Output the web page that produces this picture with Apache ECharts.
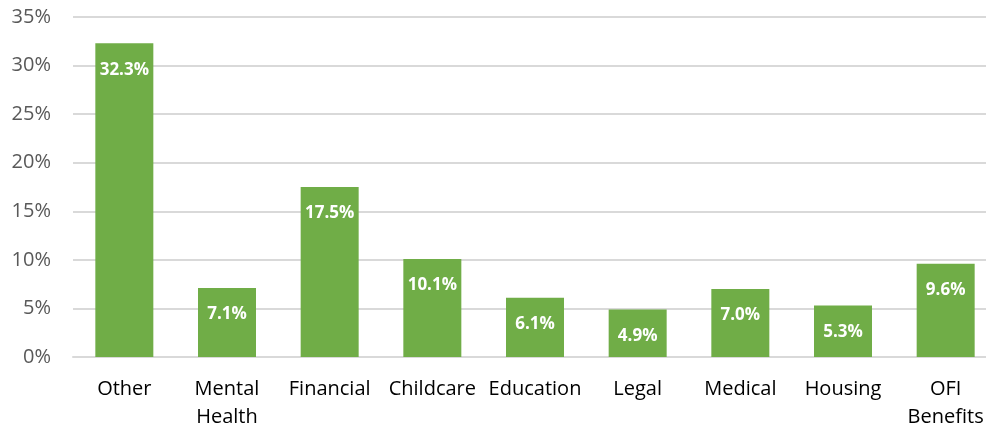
<!DOCTYPE html>
<html><head><meta charset="utf-8">
<script src="https://cdn.jsdelivr.net/npm/echarts@6/dist/echarts.min.js"></script>
<style>html,body{margin:0;padding:0;background:#fff}#c{width:986px;height:430px}</style>
</head><body><div id="c"></div>
<script>
const categories = ['Other', 'Mental\nHealth', 'Financial', 'Childcare', 'Education', 'Legal', 'Medical', 'Housing', 'OFI\nBenefits'];
const values = [32.3, 7.1, 17.5, 10.1, 6.1, 4.9, 7.0, 5.3, 9.6];
const yTicks = { min: 0, max: 35, interval: 5 };

const chart = echarts.init(document.getElementById('c'));
chart.setOption({
  animation: false,
  grid: { left: 73, top: 17, bottom: 73, width: 924, containLabel: false, outerBoundsMode: 'none' },
  xAxis: {
    type: 'category', data: categories,
    axisLine: { show: true, lineStyle: { color: '#d9d9d9', width: 2 } },
    axisTick: { show: false },
    axisLabel: { color: '#000', fontSize: 20, fontFamily: 'Open Sans', margin: 18, lineHeight: 28, interval: 0 }
  },
  yAxis: {
    type: 'value', min: yTicks.min, max: yTicks.max, interval: yTicks.interval,
    axisLabel: { formatter: v => v + '%', color: '#595959', fontSize: 20, fontFamily: 'Open Sans', margin: 22 },
    splitLine: { lineStyle: { color: '#d9d9d9', width: 2 } },
    axisLine: { show: false }, axisTick: { show: false }
  },
  series: [{
    type: 'bar', data: values, barWidth: 58,
    itemStyle: { color: '#70ad47' },
    label: { show: true, position: 'insideTop', distance: 18, color: '#fff', fontWeight: 'bold', fontSize: 17, fontFamily: 'Open Sans', formatter: p => p.value.toFixed(1) + '%' }
  }]
});
</script></body></html>
